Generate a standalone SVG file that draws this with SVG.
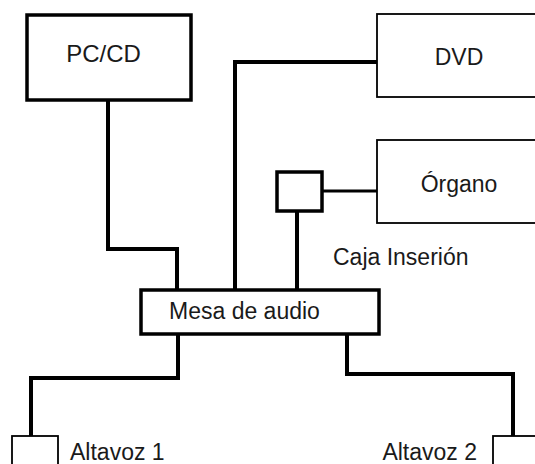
<svg xmlns="http://www.w3.org/2000/svg" width="535" height="464" viewBox="0 0 535 464">
<style>
.t{font-family:"Liberation Sans",Arial,sans-serif;font-size:23px;fill:#1a1a1a}
.thick{fill:#fff;stroke:#000;stroke-width:3.5}
.thin{fill:#fff;stroke:#000;stroke-width:1.8}
.w{fill:none;stroke:#000;stroke-width:4;stroke-linejoin:miter}
</style>
<rect width="535" height="464" fill="#fff"/>
<g id="connectors">
<polyline class="w" points="108,100 108,249 177,249 177,290"/>
<polyline class="w" points="377,62 235,62 235,290"/>
<polyline class="w" points="297,211 297,290"/>
<line x1="322" y1="191" x2="377" y2="191" stroke="#000" stroke-width="3"/>
<polyline class="w" points="178,334 178,378 31,378 31,436"/>
<polyline class="w" points="347,334 347,374 513,374 513,436"/>
</g>
<g id="pccd"><rect class="thick" x="27" y="15" width="164" height="85"/><text class="t" x="103.5" y="62" text-anchor="middle" style="font-size:24px">PC/CD</text></g>
<g id="dvd"><rect class="thin" x="377" y="14" width="162" height="83"/><text class="t" x="459" y="65" text-anchor="middle">DVD</text></g>
<g id="organo"><rect class="thin" x="377" y="140" width="162" height="83"/><text class="t" x="459" y="192" text-anchor="middle">Órgano</text></g>
<g id="caja"><rect class="thick" x="277" y="172" width="45" height="39"/><text class="t" x="333" y="265">Caja Inserión</text></g>
<g id="mesa"><rect class="thick" x="141" y="290" width="238" height="44"/><text class="t" x="169" y="319">Mesa de audio</text></g>
<g id="altavoz1"><rect class="thin" x="12" y="436" width="46" height="40"/><text class="t" x="70" y="460">Altavoz 1</text></g>
<g id="altavoz2"><rect class="thin" x="493" y="436" width="50" height="40"/><text class="t" x="477" y="460" text-anchor="end">Altavoz 2</text></g>
</svg>
